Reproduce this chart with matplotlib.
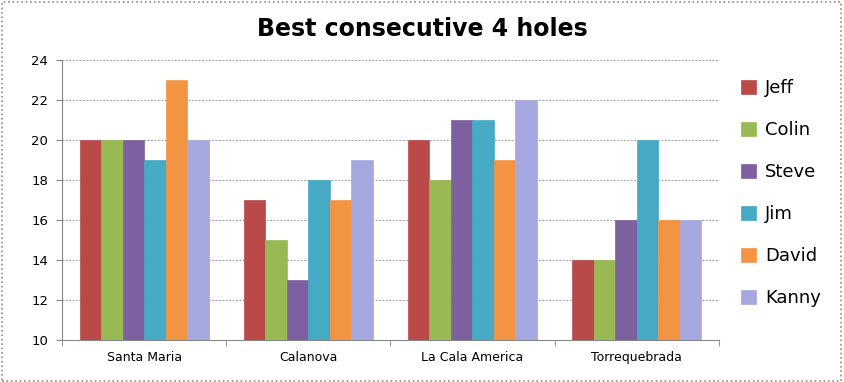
import numpy as np
import matplotlib.pyplot as plt
from matplotlib.patches import Rectangle

# data
courses = ['Santa Maria', 'Calanova', 'La Cala America', 'Torrequebrada']
players = ['Jeff', 'Colin', 'Steve', 'Jim', 'David', 'Kanny']
jeff = [20, 17, 20, 14]
colin = [20, 15, 18, 14]
steve = [20, 13, 21, 16]
jim = [19, 18, 21, 20]
david = [23, 17, 19, 16]
kanny = [20, 19, 22, 16]
scores = [jeff, colin, steve, jim, david, kanny]

colors = ['#B94A48', '#98B954', '#7D60A0', '#46AAC5', '#F39443', '#A4A8DE']

fig = plt.figure(figsize=(8.44, 3.82), dpi=100)
ax = fig.add_axes([0.0735, 0.110, 0.778, 0.733])

x = np.arange(len(courses))
w = 0.131
for i, (name, vals) in enumerate(zip(players, scores)):
    ax.bar(x + (i - 2.5) * w, vals, width=w, color=colors[i], label=name,
           edgecolor=colors[i], linewidth=0.5, zorder=3)

ax.set_xlim(-0.5, 3.5)
ax.set_ylim(10, 24)
ax.set_yticks(range(10, 25, 2))
ax.set_xticks(x)
ax.set_xticklabels(courses)
ax.set_xticks(np.arange(-0.5, 4, 1), minor=True)
ax.tick_params(axis='x', which='major', length=0, pad=8, labelsize=9)
ax.tick_params(axis='x', which='minor', length=4, color='#868686')
ax.tick_params(axis='y', length=4, color='#868686', labelsize=9.5, pad=6)
ax.grid(axis='y', linestyle=(0, (2, 1.5)), color='#A0A0A0', linewidth=0.7, zorder=0)
for s in ['top', 'right']:
    ax.spines[s].set_visible(False)
for s in ['left', 'bottom']:
    ax.spines[s].set_color('#868686')
    ax.spines[s].set_linewidth(0.8)

# title centred on the whole figure
fig.text(0.5, 0.925, 'Best consecutive 4 holes', ha='center', va='center',
         fontsize=17, fontweight='bold')

leg = ax.legend(loc='upper left', bbox_to_anchor=(1.01, 0.99), frameon=False,
                fontsize=13, handlelength=0.8, handleheight=0.8,
                handletextpad=0.5, labelspacing=1.33)

# dotted outer border
fig.patches.append(Rectangle((0.002, 0.003), 0.995, 0.993, transform=fig.transFigure,
                             fill=False, edgecolor='#8C8C8C', linestyle=':', linewidth=1.2))

fig.savefig('out.png', dpi=100)
